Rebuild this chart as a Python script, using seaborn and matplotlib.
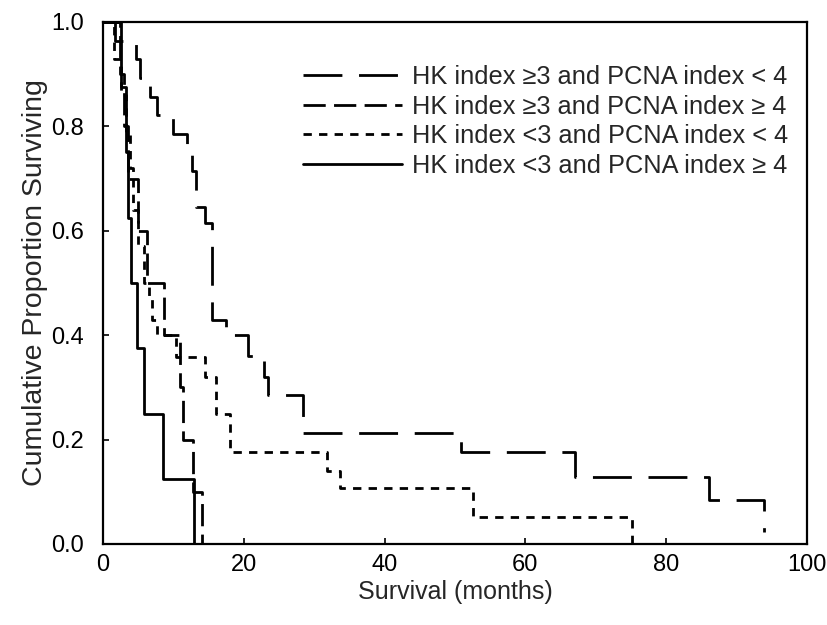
import numpy as np
import pandas as pd
import seaborn as sns
import matplotlib
matplotlib.use("Agg")
import matplotlib.pyplot as plt

# Kaplan-Meier step values (months, proportion surviving)
groups = ["HK index \u22653 and PCNA index < 4",
          "HK index \u22653 and PCNA index \u2265 4",
          "HK index <3 and PCNA index < 4",
          "HK index <3 and PCNA index \u2265 4"]

hk_hi_pcna_lo_t = [0, 1.7, 4.7, 5.3, 6.7, 7.6, 10.0, 12.0, 12.6, 13.2, 14.5, 15.5,
                   17.5, 20.6, 22.8, 23.5, 28.4, 50.8, 67.1, 86.1, 93.9]
hk_hi_pcna_lo_s = [1.0, 0.964, 0.929, 0.893, 0.857, 0.821, 0.786, 0.75, 0.714, 0.645,
                   0.615, 0.43, 0.40, 0.36, 0.32, 0.285, 0.213, 0.176, 0.128, 0.084, 0.023]

hk_hi_pcna_hi_t = [0, 2.4, 3.0, 3.6, 5.0, 6.2, 8.6, 10.9, 11.4, 12.8, 14.0]
hk_hi_pcna_hi_s = [1.0, 0.9, 0.8, 0.7, 0.6, 0.5, 0.4, 0.3, 0.2, 0.1, 0.0]

hk_lo_pcna_lo_t = [0, 1.5, 2.5, 3.2, 3.8, 4.3, 5.0, 5.8, 6.5, 7.0, 7.6, 10.4, 14.5,
                   16.0, 18.1, 31.8, 33.7, 52.5, 75.2]
hk_lo_pcna_lo_s = [1.0, 0.93, 0.86, 0.79, 0.72, 0.64, 0.57, 0.5, 0.47, 0.43, 0.40,
                   0.358, 0.32, 0.25, 0.176, 0.14, 0.107, 0.052, 0.0]

hk_lo_pcna_hi_t = [0, 2.6, 3.2, 3.5, 4.0, 4.8, 5.8, 8.5, 12.9]
hk_lo_pcna_hi_s = [1.0, 0.875, 0.75, 0.625, 0.5, 0.375, 0.25, 0.125, 0.0]

x_ticks = [0, 20, 40, 60, 80, 100]
y_ticks = [0.0, 0.2, 0.4, 0.6, 0.8, 1.0]

frames = []
for g, t, s in zip(groups,
                   [hk_hi_pcna_lo_t, hk_hi_pcna_hi_t, hk_lo_pcna_lo_t, hk_lo_pcna_hi_t],
                   [hk_hi_pcna_lo_s, hk_hi_pcna_hi_s, hk_lo_pcna_lo_s, hk_lo_pcna_hi_s]):
    frames.append(pd.DataFrame({"months": t, "surv": s, "group": g}))
df = pd.concat(frames, ignore_index=True)

sns.set_style("ticks")
plt.rcParams['font.family'] = ['Liberation Sans', 'DejaVu Sans']

fig = plt.figure(figsize=(8.28, 6.25), dpi=100)
ax = fig.add_axes([0.1244, 0.1296, 0.8502, 0.8352])

dashes = {groups[0]: (14, 6), groups[1]: (8, 3), groups[2]: (3, 2.6), groups[3]: ""}
sns.lineplot(data=df, x="months", y="surv", style="group", style_order=groups,
             dashes=dashes, color="black", linewidth=2.0, estimator=None,
             drawstyle="steps-post", ax=ax)

ax.set_xlim(0, 100)
ax.set_ylim(0, 1.0)
ax.set_xticks(x_ticks)
ax.set_yticks(y_ticks)
ax.set_yticklabels([f"{v:.1f}" for v in y_ticks])
ax.tick_params(direction="in", length=4, width=1.2, labelsize=17, colors="black")
ax.tick_params(axis="y", pad=14)
ax.tick_params(axis="x", pad=7)
for sp in ax.spines.values():
    sp.set_linewidth(1.6)
    sp.set_color("black")
ax.set_xlabel("Survival (months)", fontsize=18, labelpad=3)
ax.set_ylabel("Cumulative Proportion Surviving", fontsize=20.5, labelpad=2)

handles, labels = ax.get_legend_handles_labels()
ax.legend(handles, labels, loc="upper right", bbox_to_anchor=(0.988, 0.937),
          frameon=False, fontsize=18.3, handlelength=3.9, handletextpad=0.4,
          labelspacing=0.22, borderaxespad=0)

fig.savefig("out.png", dpi=100)
